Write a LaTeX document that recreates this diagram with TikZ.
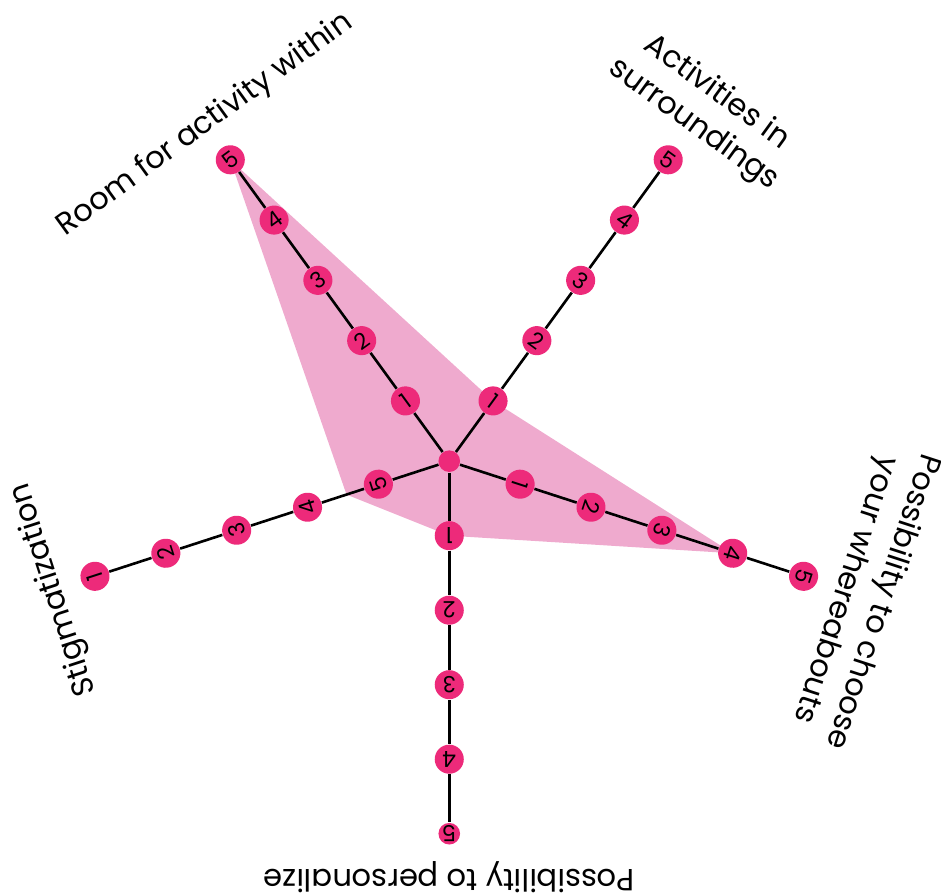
\documentclass[tikz,border=0pt]{standalone}
\usepackage{fontspec}
\setmainfont{Poppins}
\usetikzlibrary{calc}
\pgfdeclarelayer{bg}
\pgfsetlayers{bg,main}
\definecolor{dotpink}{RGB}{237,42,122}
\definecolor{areapink}{RGB}{239,170,206}

\begin{document}
\begin{tikzpicture}
  [valdot/.style={circle, fill=dotpink, minimum size=0.39cm, inner sep=0pt, font=\fontsize{8.5}{8.5}\selectfont},
   axislabel/.style={anchor=south, inner sep=0pt, align=center, font=\fontsize{11.7}{15}\selectfont},
   axisline/.style={line width=1pt}]
  \useasboundingbox (-6.03,-5.79) rectangle (6.60,6.19);

  % nodes %
  \node[valdot, minimum size=0.29cm] (o) at (0,0) {};
  \foreach \ang/\nm in {126/r, 54/a, -18/c}
    \foreach \i in {1,...,5}
      \node[valdot, rotate=\ang-90] (\nm\i) at (\ang:\i) {\i};
  \foreach \i in {1,...,4}
    \node[valdot, rotate=180] (p\i) at (-90:\i) {\i};
  \node[valdot, minimum size=0.29cm, rotate=180] (p5) at (-90:5) {5};
  \foreach \i in {1,...,5}
    \node[valdot, rotate=108] (s\i) at (198:6-\i) {\i};

  % labels %
  \node[axislabel, rotate=36] (lr) at (126:5.36) {Room for activity within};
  \node[axislabel, rotate=-36] (la) at (54:5.36) {Activities in\\surroundings};
  \node[axislabel, rotate=-108] (lc) at (-18:5.36) {Possibility to choose\\your whereabouts};
  \node[axislabel, rotate=180] (lp) at (-90:5.36) {Possibility to personalize};
  \node[axislabel, rotate=108] (ls) at (198:5.36) {Stigmatization};

  % edges %
  \foreach \nm in {r,a,c,p}
    \draw[axisline] (o) -- (\nm1) -- (\nm2) -- (\nm3) -- (\nm4) -- (\nm5);
  \draw[axisline] (o) -- (s5) -- (s4) -- (s3) -- (s2) -- (s1);

  % area %
  \coordinate (e) at (198:1.45);
  \begin{pgfonlayer}{bg}
    \fill[areapink] (r5.center) -- (a1.center) -- (c4.center) -- (p1.center) -- (e) -- cycle;
  \end{pgfonlayer}
\end{tikzpicture}
\end{document}
